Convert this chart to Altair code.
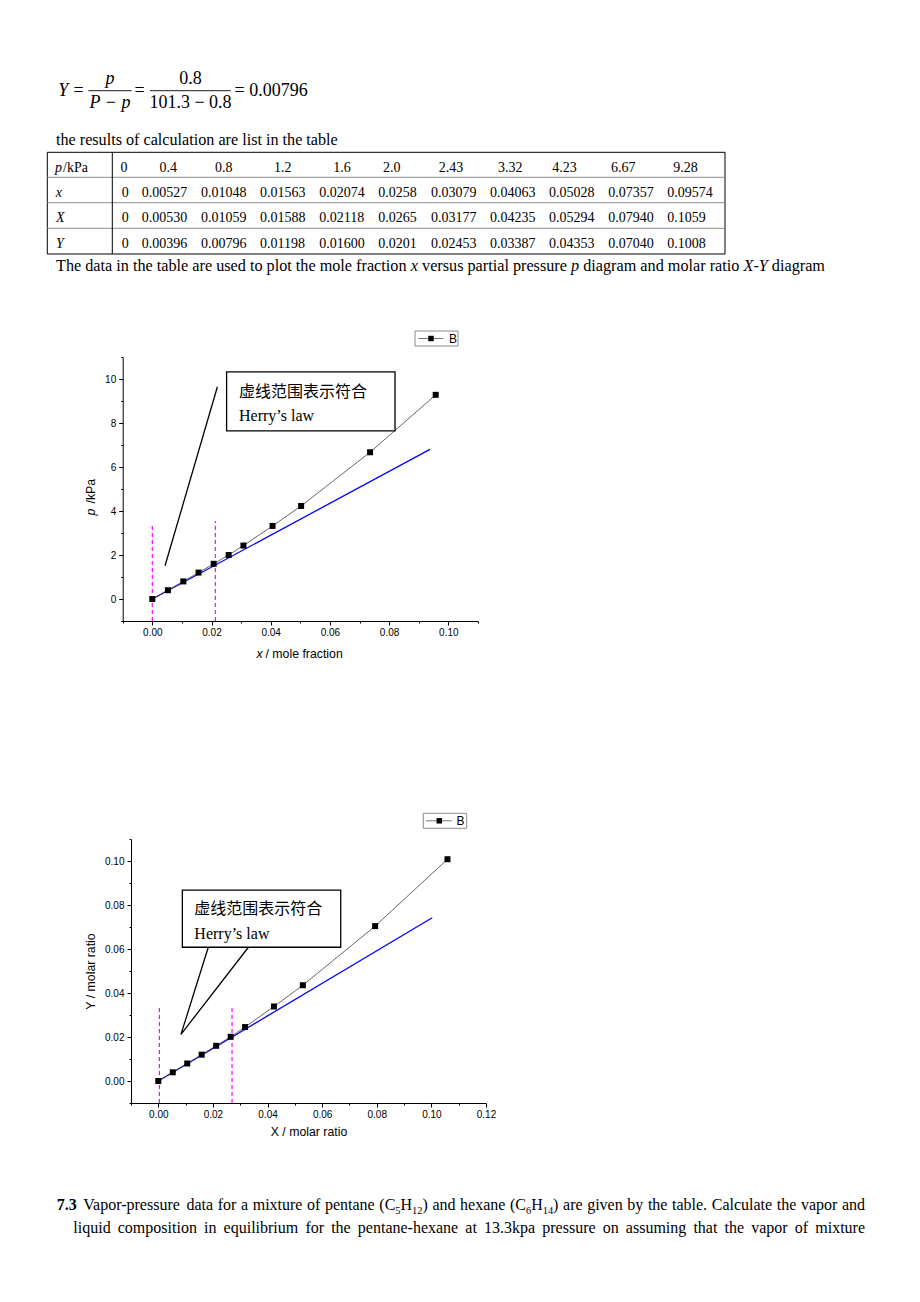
import altair as alt
import pandas as pd

p_labels = ["0", "0.4", "0.8", "1.2", "1.6", "2.0", "2.43", "3.32", "4.23", "6.67", "9.28"]
x_labels = ["0", "0.00527", "0.01048", "0.01563", "0.02074", "0.0258", "0.03079",
            "0.04063", "0.05028", "0.07357", "0.09574"]
X_labels = ["0", "0.00530", "0.01059", "0.01588", "0.02118", "0.0265", "0.03177",
            "0.04235", "0.05294", "0.07940", "0.1059"]
Y_labels = ["0", "0.00396", "0.00796", "0.01198", "0.01600", "0.0201", "0.02453",
            "0.03387", "0.04353", "0.07040", "0.1008"]

p_vals = [float(v) for v in p_labels]
x_vals = [float(v) for v in x_labels]
X_vals = [float(v) for v in X_labels]
Y_vals = [float(v) for v in Y_labels]

# Henry's-law reference lines and annotations (data units)
henry1_x = [0.0, 0.0938]
henry1_p = [0.0, 6.80]
dash1_x = [0.0, 0.0213]
dash1_bottom = [-1.0, -1.0]
dash1_top = [3.32, 3.55]
pointer1_x = [0.0043, 0.0220]
pointer1_p = [1.51, 9.65]
note1_box_x = [0.0251, 0.0820]
note1_box_y = [7.64, 10.32]
note1_text_x = 0.0293
note1_cn_y = 9.42
note1_en_y = 8.09

henry2_X = [0.0, 0.1003]
henry2_Y = [0.0, 0.0742]
dash2_X = [0.0004, 0.0270]
dash2_bottom = [-0.01, -0.01]
dash2_top = [0.0335, 0.0347]
wedge2_X = [0.0183, 0.0083, 0.0330]
wedge2_Y = [0.0608, 0.0212, 0.0608]
note2_box_X = [0.0088, 0.0668]
note2_box_Y = [0.0608, 0.0868]
note2_text_X = 0.0132
note2_cn_Y = 0.0783
note2_en_Y = 0.0645

note_cn = "虚线范围表示符合"
note_en = "Herry\u2019s law"
series_name = "B"

# axis tick values
x1_major = [0.0, 0.02, 0.04, 0.06, 0.08, 0.10]
x1_minor = [-0.01, 0.01, 0.03, 0.05, 0.07, 0.09, 0.11]
y1_major = [0, 2, 4, 6, 8, 10]
y1_minor = [-1, 1, 3, 5, 7, 9, 11]
x2_major = [0.0, 0.02, 0.04, 0.06, 0.08, 0.10, 0.12]
x2_minor = [-0.01, 0.01, 0.03, 0.05, 0.07, 0.09, 0.11]
y2_major = [0.0, 0.02, 0.04, 0.06, 0.08, 0.10]
y2_minor = [-0.01, 0.01, 0.03, 0.05, 0.07, 0.09, 0.11]

# ---------------- layout helpers ----------------
W, H, OFF = 904, 1286, 8
SERIF = "Liberation Serif"
SANS = "Liberation Sans"
CJK = "Noto Sans CJK SC"
ONE = pd.DataFrame({"k": [0]})
SUB = 0.65  # subscript size factor

# Times / Liberation Serif advance widths (1/1000 em) for text layout
_TW = {" ": 250, "(": 333, ")": 333, "-": 333, ".": 250, "/": 278, ",": 250,
       "A": 722, "B": 667, "C": 667, "D": 722, "E": 611, "F": 556, "G": 722, "H": 722,
       "I": 333, "J": 389, "K": 722, "L": 611, "M": 889, "N": 722, "O": 722, "P": 556,
       "Q": 722, "R": 667, "S": 556, "T": 611, "U": 722, "V": 722, "W": 944, "X": 722,
       "Y": 722, "Z": 611,
       "a": 444, "b": 500, "c": 444, "d": 500, "e": 444, "f": 333, "g": 500, "h": 500,
       "i": 278, "j": 278, "k": 500, "l": 278, "m": 778, "n": 500, "o": 500, "p": 500,
       "q": 500, "r": 333, "s": 389, "t": 278, "u": 500, "v": 500, "w": 722, "x": 500,
       "y": 500, "z": 444}
_TW_IT = {"x": 444, "p": 500, "X": 611, "Y": 556, "-": 333}


def units(s, style="normal"):
    tot = 0
    for ch in s:
        if style == "italic" and ch in _TW_IT:
            tot += _TW_IT[ch]
        elif ch.isdigit():
            tot += 500
        else:
            tot += _TW.get(ch, 480)
    return tot


def split_sub(word):
    """'(C_5H_12)' -> [('(C', False), ('5', True), ('H', False), ('12', True), (')', False)]"""
    parts, cur, i = [], "", 0
    while i < len(word):
        if word[i] == "_":
            if cur:
                parts.append((cur, False))
                cur = ""
            j = i + 1
            while j < len(word) and word[j].isdigit():
                j += 1
            parts.append((word[i + 1:j], True))
            i = j
        else:
            cur += word[i]
            i += 1
    if cur:
        parts.append((cur, False))
    return parts


def word_width(word, size):
    return sum(units(t) * size / 1000 * (SUB if sub else 1) for t, sub in split_sub(word))


def txt(s, x, y, size=14, font=SERIF, style="normal", weight="normal",
        align="left", baseline="alphabetic", angle=None, color="black"):
    kw = dict(text=s, fontSize=size, font=font, fontStyle=style, fontWeight=weight,
              align=align, baseline=baseline, color=color)
    if angle is not None:
        kw["angle"] = angle
    return alt.Chart(ONE).mark_text(**kw).encode(x=alt.value(x - OFF), y=alt.value(y - OFF))


def rule(x1, y1, x2, y2, color="black", width=1.0):
    return alt.Chart(ONE).mark_rule(color=color, strokeWidth=width).encode(
        x=alt.value(x1 - OFF), y=alt.value(y1 - OFF),
        x2=alt.value(x2 - OFF), y2=alt.value(y2 - OFF))


def rect(x1, y1, x2, y2, stroke="black", width=1.0, fill="white"):
    return alt.Chart(ONE).mark_rect(fill=fill, stroke=stroke, strokeWidth=width).encode(
        x=alt.value(x1 - OFF), y=alt.value(y1 - OFF),
        x2=alt.value(x2 - OFF), y2=alt.value(y2 - OFF))


def flow_line(segs, x0, x1, y):
    """Run of mixed roman/italic segments fitted between x0 and x1."""
    total = sum(units(s, st) for s, st in segs)
    size = (x1 - x0) / total * 1000
    out, cur = [], x0
    for s, st in segs:
        lead = len(s) - len(s.lstrip(" "))
        cur += lead * 250 * size / 1000
        body = s.strip(" ")
        out.append(txt(body, cur, y, size=size, style=st))
        cur += units(s.lstrip(" "), st) * size / 1000
    return out


def draw_word(word, x, y, size):
    out, cur = [], x
    for t, sub in split_sub(word):
        fs = size * SUB if sub else size
        out.append(txt(t, cur, y + (size * 0.22 if sub else 0), size=fs))
        cur += units(t) * fs / 1000
    return out


def justified(words, x0, x1, y, size):
    widths = [word_width(w, size) for w in words]
    gap = (x1 - x0 - sum(widths)) / (len(words) - 1)
    out, cur = [], x0
    for i, (w, wd) in enumerate(zip(words, widths)):
        if i == len(words) - 1:
            out.append(txt(w, x1, y, size=size, align="right"))
        else:
            out += draw_word(w, cur, y, size)
        cur += wd + gap
    return out


def table_row(texts, xs, y, align):
    df = pd.DataFrame({"t": texts, "px": [v - OFF for v in xs], "py": [y - OFF] * len(texts)})
    return alt.Chart(df).mark_text(font=SERIF, fontSize=14, align=align,
                                   baseline="alphabetic", color="black").encode(
        x=alt.X("px:Q", scale=None), y=alt.Y("py:Q", scale=None), text="t:N")


def major_axis(orient, offset, values, fmt, pad, title=None, title_pad=0):
    kw = dict(orient=orient, offset=offset, values=values, format=fmt, tickSize=4,
              tickWidth=1, tickColor="black", domainColor="black", domainWidth=1,
              labelFont=SANS, labelFontSize=10, labelColor="black", labelPadding=pad,
              labelOverlap=False, labelFlush=False, grid=False)
    if title:
        kw.update(title=title, titleFont=SANS, titleFontSize=12.3, titleFontWeight="normal",
                  titleColor="black", titlePadding=title_pad)
    else:
        kw["title"] = None
    return alt.Axis(**kw)


def minor_axis(orient, offset, values):
    return alt.Axis(orient=orient, offset=offset, values=values, tickSize=2, tickWidth=1,
                    tickColor="black", labels=False, domain=False, grid=False, title=None)


def legend(x1, y1, x2, y2, lx1, lx2, sq, bx, cy):
    return [
        rect(x1, y1, x2, y2, stroke="#8a8a8a", width=1),
        rule(lx1, cy, lx2, cy, color="#555555", width=0.8),
        alt.Chart(ONE).mark_point(shape="square", filled=True, color="black", size=30,
                                  opacity=1).encode(x=alt.value(sq - OFF), y=alt.value(cy - OFF)),
        txt(series_name, bx, cy, size=12, font=SANS, baseline="middle"),
    ]


# ---------------- header (formula, table, captions) ----------------
header = [
    txt("Y", 58.3, 96, size=18, style="italic"),
    txt("=", 78.5, 96, size=18, align="center"),
    txt("p", 110, 84, size=18, style="italic", align="center"),
    rule(88.3, 90.7, 131.7, 90.7, width=0.9),
    txt("P \u2212 p", 110, 107.5, size=18, style="italic", align="center"),
    txt("=", 139.5, 96, size=18, align="center"),
    txt("0.8", 190.5, 84, size=18, align="center"),
    rule(150, 90.7, 230.7, 90.7, width=0.9),
    txt("101.3 \u2212 0.8", 190.5, 107.5, size=18, align="center"),
    txt("= 0.00796", 234.5, 96, size=18),
]
header += flow_line([("the results of calculation are list in the table", "normal")], 56, 338, 145)

tbl_top, tbl_bot, tbl_left, tbl_right, tbl_div = 152.3, 254, 47.3, 725, 112.3
row_lines = [177.3, 202.7, 228.3]
hdr_cx = [124, 168.3, 223.7, 282.7, 342, 391.7, 451, 510.3, 564.5, 623.3, 685.5]
val_lx = [121.7, 141.7, 201, 260, 319.3, 378.3, 431, 490, 549, 608.3, 667.3]
row_base = [171.7, 196.7, 222.3, 247.7]

table = [rect(tbl_left, tbl_top, tbl_right, tbl_bot, stroke="black", width=1)]
table += [rule(tbl_left, y, tbl_right, y, color="#8c8c8c", width=1) for y in row_lines]
table += [rule(tbl_div, tbl_top, tbl_div, tbl_bot, color="black", width=1)]
table += [
    txt("p", 55, row_base[0], style="italic"),
    txt("/kPa", 63, row_base[0]),
    txt("x", 55.7, row_base[1], style="italic"),
    txt("X", 56, row_base[2], style="italic"),
    txt("Y", 56, row_base[3], style="italic"),
    table_row(p_labels, hdr_cx, row_base[0], "center"),
    table_row(x_labels, val_lx, row_base[1], "left"),
    table_row(X_labels, val_lx, row_base[2], "left"),
    table_row(Y_labels, val_lx, row_base[3], "left"),
]

caption = flow_line([
    ("The data in the table are used to plot the mole fraction ", "normal"),
    ("x", "italic"),
    (" versus partial pressure ", "normal"),
    ("p", "italic"),
    (" diagram and molar ratio ", "normal"),
    ("X-Y", "italic"),
    (" diagram", "normal"),
], 56, 825, 270.7)

line1_words = ("Vapor-pressure data for a mixture of pentane (C_5H_12) and hexane "
               "(C_6H_14) are given by the table. Calculate the vapor and").split(" ")
line2_words = ("liquid composition in equilibrium for the pentane-hexane at 13.3kpa pressure "
               "on assuming that the vapor of mixture").split(" ")
footer = [txt("7.3", 56.7, 1210, size=16, weight="bold")]
footer += justified(line1_words, 83.3, 865, 1210, 16)
footer += justified(line2_words, 73.3, 865, 1233, 16)

# ---------------- chart 1: p vs x ----------------
sx1 = alt.Scale(domain=[-0.01, 0.11], range=[122.7 - OFF, 477.9 - OFF], nice=False, zero=False)
sy1 = alt.Scale(domain=[-1, 11], range=[621 - OFF, 357 - OFF], nice=False, zero=False)
x1_off = -(H - (621 - OFF))
y1_off = -(122.7 - OFF)

df1 = pd.DataFrame({"x": x_vals, "p": p_vals})
X1 = lambda f: alt.X(f, scale=sx1, axis=None)
Y1 = lambda f: alt.Y(f, scale=sy1, axis=None)

c1_dash = alt.Chart(pd.DataFrame({"x": dash1_x, "b": dash1_bottom, "t": dash1_top})).mark_rule(
    color="#ff00ff", strokeWidth=1.2, strokeDash=[4, 3]).encode(x=X1("x:Q"), y=Y1("b:Q"), y2="t:Q")
c1_henry = alt.Chart(pd.DataFrame({"x": henry1_x, "p": henry1_p})).mark_line(
    color="#0000ff", strokeWidth=1.3).encode(x=X1("x:Q"), y=Y1("p:Q"))
c1_line = alt.Chart(df1).mark_line(color="#404040", strokeWidth=0.8).encode(
    x=X1("x:Q"), y=Y1("p:Q"))
c1_pts = alt.Chart(df1).mark_point(shape="square", filled=True, color="black", size=36,
                                   opacity=1).encode(x=X1("x:Q"), y=Y1("p:Q"))
c1_pointer = alt.Chart(pd.DataFrame({"x": pointer1_x, "p": pointer1_p})).mark_line(
    color="black", strokeWidth=1.3).encode(x=X1("x:Q"), y=Y1("p:Q"))
c1_box = alt.Chart(pd.DataFrame({"x0": [note1_box_x[0]], "x1": [note1_box_x[1]],
                                 "y0": [note1_box_y[0]], "y1": [note1_box_y[1]]})).mark_rect(
    fill="white", stroke="black", strokeWidth=1.3).encode(
    x=X1("x0:Q"), x2="x1:Q", y=Y1("y0:Q"), y2="y1:Q")
c1_cn = alt.Chart(pd.DataFrame({"x": [note1_text_x], "y": [note1_cn_y], "t": [note_cn]})).mark_text(
    font=CJK, fontSize=16, align="left", baseline="middle", color="black").encode(
    x=X1("x:Q"), y=Y1("y:Q"), text="t:N")
c1_en = alt.Chart(pd.DataFrame({"x": [note1_text_x], "y": [note1_en_y], "t": [note_en]})).mark_text(
    font=SERIF, fontSize=16, align="left", baseline="alphabetic", color="black").encode(
    x=X1("x:Q"), y=Y1("y:Q"), text="t:N")

chart1 = alt.layer(c1_dash, c1_henry, c1_line, c1_pts, c1_pointer, c1_box, c1_cn, c1_en)
chart1_major = alt.Chart(df1).mark_point(opacity=0).encode(
    x=alt.X("x:Q", scale=sx1, axis=major_axis("bottom", x1_off, x1_major, ".2f", 2)),
    y=alt.Y("p:Q", scale=sy1, axis=major_axis("left", y1_off, y1_major, "d", 3)))
chart1_minor = alt.Chart(df1).mark_point(opacity=0).encode(
    x=alt.X("x:Q", scale=sx1, axis=minor_axis("bottom", x1_off, x1_minor)),
    y=alt.Y("p:Q", scale=sy1, axis=minor_axis("left", y1_off, y1_minor)))

chart1_titles = [
    txt("x", 256.5, 657.5, size=12.3, font=SANS, style="italic"),
    txt("/ mole fraction", 265.5, 657.5, size=12.3, font=SANS),
    txt("p", 91, 515.5, size=12.3, font=SANS, style="italic", angle=270, baseline="middle"),
    txt("/kPa", 91, 503.5, size=12.3, font=SANS, angle=270, baseline="middle"),
]

# ---------------- chart 2: Y vs X ----------------
sx2 = alt.Scale(domain=[-0.01, 0.12], range=[131 - OFF, 486 - OFF], nice=False, zero=False)
sy2 = alt.Scale(domain=[-0.01, 0.11], range=[1103 - OFF, 839 - OFF], nice=False, zero=False)
x2_off = -(H - (1103 - OFF))
y2_off = -(131 - OFF)

df2 = pd.DataFrame({"X": X_vals, "Y": Y_vals})
X2 = lambda f: alt.X(f, scale=sx2, axis=None)
Y2 = lambda f: alt.Y(f, scale=sy2, axis=None)

c2_dash = alt.Chart(pd.DataFrame({"X": dash2_X, "b": dash2_bottom, "t": dash2_top})).mark_rule(
    color="#ff00ff", strokeWidth=1.2, strokeDash=[4, 3]).encode(x=X2("X:Q"), y=Y2("b:Q"), y2="t:Q")
c2_henry = alt.Chart(pd.DataFrame({"X": henry2_X, "Y": henry2_Y})).mark_line(
    color="#0000ff", strokeWidth=1.3).encode(x=X2("X:Q"), y=Y2("Y:Q"))
c2_line = alt.Chart(df2).mark_line(color="#404040", strokeWidth=0.8).encode(
    x=X2("X:Q"), y=Y2("Y:Q"))
c2_pts = alt.Chart(df2).mark_point(shape="square", filled=True, color="black", size=36,
                                   opacity=1).encode(x=X2("X:Q"), y=Y2("Y:Q"))
c2_box = alt.Chart(pd.DataFrame({"x0": [note2_box_X[0]], "x1": [note2_box_X[1]],
                                 "y0": [note2_box_Y[0]], "y1": [note2_box_Y[1]]})).mark_rect(
    fill="white", stroke="black", strokeWidth=1.3).encode(
    x=X2("x0:Q"), x2="x1:Q", y=Y2("y0:Q"), y2="y1:Q")
c2_wedge = alt.Chart(pd.DataFrame({"X": wedge2_X, "Y": wedge2_Y, "o": [0, 1, 2]})).mark_line(
    color="black", strokeWidth=1.3).encode(x=X2("X:Q"), y=Y2("Y:Q"), order="o:Q")
c2_cn = alt.Chart(pd.DataFrame({"X": [note2_text_X], "Y": [note2_cn_Y], "t": [note_cn]})).mark_text(
    font=CJK, fontSize=16, align="left", baseline="middle", color="black").encode(
    x=X2("X:Q"), y=Y2("Y:Q"), text="t:N")
c2_en = alt.Chart(pd.DataFrame({"X": [note2_text_X], "Y": [note2_en_Y], "t": [note_en]})).mark_text(
    font=SERIF, fontSize=16, align="left", baseline="alphabetic", color="black").encode(
    x=X2("X:Q"), y=Y2("Y:Q"), text="t:N")

chart2 = alt.layer(c2_dash, c2_henry, c2_line, c2_pts, c2_box, c2_wedge, c2_cn, c2_en)
chart2_major = alt.Chart(df2).mark_point(opacity=0).encode(
    x=alt.X("X:Q", scale=sx2, axis=major_axis("bottom", x2_off, x2_major, ".2f", 2,
                                                title="X / molar ratio", title_pad=6)),
    y=alt.Y("Y:Q", scale=sy2, axis=major_axis("left", y2_off, y2_major, ".2f", 3,
                                                title="Y / molar ratio", title_pad=7)))
chart2_minor = alt.Chart(df2).mark_point(opacity=0).encode(
    x=alt.X("X:Q", scale=sx2, axis=minor_axis("bottom", x2_off, x2_minor)),
    y=alt.Y("Y:Q", scale=sy2, axis=minor_axis("left", y2_off, y2_minor)))

legends = legend(415, 331, 458, 346, 418.3, 443.3, 431, 449, 338.5) + \
    legend(423.3, 813.3, 466.7, 828.3, 426, 451.7, 439.3, 456.5, 820.8)

layers = header + table + caption + chart1_titles + legends + \
    [chart1_major, chart1_minor, chart1, chart2_major, chart2_minor, chart2] + footer

chart = alt.layer(*layers).resolve_scale(
    x="independent", y="independent").resolve_axis(
    x="independent", y="independent").properties(
    width=W, height=H, autosize=alt.AutoSizeParams(type="none"), padding=0,
    background="white").configure_view(stroke=None)

chart.save("out.html", embed_options={"renderer": "svg", "actions": False})
